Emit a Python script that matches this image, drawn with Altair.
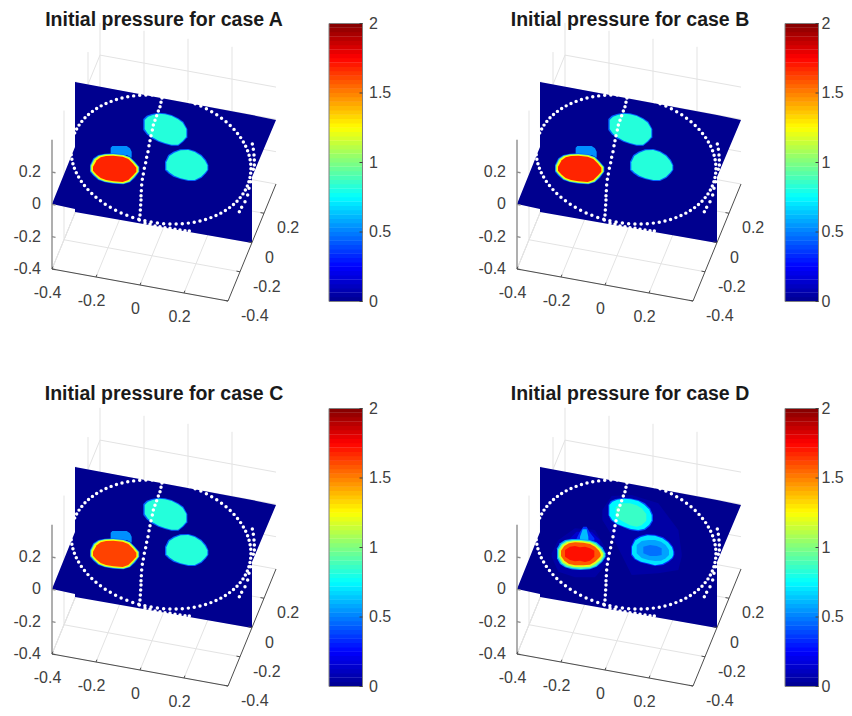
import numpy as np
import pandas as pd
import altair as alt

alt.data_transformers.disable_max_rows()

# ---------- panels ----------
case_names = ["A", "B", "C", "D"]
panel_dx = {"A": 0, "B": 465, "C": 0, "D": 465}
panel_dy = {"A": 0, "B": 0, "C": 385, "D": 385}
colorbar_dx = {"A": 0, "B": 456, "C": 0, "D": 456}
colorbar_gap = {"A": 6.5, "B": 3, "C": 6.5, "D": 3}
title_x = {"A": 164, "B": 630, "C": 164, "D": 630}
title_y = {"A": 20, "B": 20, "C": 394, "D": 394}

# ---------- axes ----------
tick_values = [-0.4, -0.2, 0, 0.2]
tick_labels = ["-0.4", "-0.2", "0", "0.2"]
cbar_ticks = [0, 0.5, 1, 1.5, 2]
cbar_labels = ["0", "0.5", "1", "1.5", "2"]
jet_stops = [0, 0.25, 0.75, 1.25, 1.75, 2]
jet_colors = ["#00008f", "#0000ff", "#00ffff", "#ffff00", "#ff0000", "#800000"]
cbar_levels = [round(i / 32, 5) for i in range(64)]


def proj(x, y, z):
    return (52 + 220 * (x + 0.4) + 60 * (y + 0.4),
            269 + 40 * (x + 0.4) - 146.25 * (y + 0.4) - 161.5 * (z + 0.4))


# ---------- image plane outline (column x, top y, bottom y) ----------
plane_x = [52, 74.99, 75, 252, 252.01, 276]
plane_top = [204, 147, 82, 115, 115, 120]
plane_bot = [204, 209, 212, 243, 177, 120]

# ---------- pressure regions, read in image units (value, u, top, bottom) ----------
top_blob = [
    (0.45, [190, 200, 215, 235, 255, 275, 295, 310, 322], [42, 32, 27, 23, 25, 30, 40, 50, 72], [75, 88, 100, 110, 117, 122, 122, 110, 97]),
    (0.82, [194, 204, 218, 236, 255, 275, 294, 308, 319], [45, 35, 30, 26, 28, 33, 43, 53, 72], [72, 86, 97, 107, 114, 119, 119, 108, 95]),
]
right_blob = [
    (0.45, [255, 265, 280, 300, 325, 345, 365, 378, 385], [170, 150, 140, 133, 132, 138, 150, 165, 180], [195, 205, 215, 222, 228, 228, 218, 205, 195]),
    (0.82, [259, 268, 283, 302, 325, 344, 363, 375, 382], [172, 153, 143, 136, 135, 141, 153, 167, 181], [193, 202, 212, 220, 225, 225, 215, 203, 194]),
]
left_bump = [
    (0.53, [92, 97, 140, 150, 155], [128, 123, 123, 130, 140], [150, 150, 150, 155, 158]),
]


def left_blob(red):
    return [
        (0.45, [30, 40, 55, 75, 100, 130, 150, 165, 178], [180, 160, 150, 146, 145, 148, 155, 170, 185], [200, 212, 225, 232, 236, 238, 232, 218, 200]),
        (1.0, [32, 42, 56, 75, 100, 130, 149, 163, 176], [182, 162, 152, 148, 147, 150, 157, 171, 186], [198, 210, 223, 230, 234, 236, 230, 216, 200]),
        (1.25, [35, 45, 58, 77, 100, 129, 147, 161, 173], [183, 164, 154, 150, 149, 152, 159, 173, 187], [197, 209, 221, 228, 232, 234, 228, 214, 200]),
        (red, [39, 50, 62, 78, 100, 128, 145, 158, 169], [185, 166, 157, 153, 152, 155, 162, 175, 188], [197, 209, 219, 225, 229, 231, 225, 212, 200]),
    ]


case_d = [
    (0.05, [20, 40, 90, 150, 190], [190, 150, 115, 120, 190], [200, 245, 262, 262, 215]),
    (0.05, [172, 200, 260, 340, 400, 410], [60, 18, 15, 40, 120, 190], [90, 135, 255, 250, 240, 200]),
    (0.14, [70, 95, 140, 165], [150, 125, 125, 150], [190, 190, 190, 190]),
    (0.35, [95, 105, 115, 125, 135, 148], [145, 125, 110, 110, 128, 145], [150, 150, 150, 150, 150, 152]),
    (0.62, [105, 113, 125, 130], [140, 118, 118, 140], [150, 150, 150, 150]),
    (0.55, [36, 45, 60, 80, 105, 135, 155, 172, 182], [175, 160, 150, 147, 147, 150, 157, 172, 190], [205, 222, 232, 238, 240, 238, 230, 215, 200]),
    (0.9, [39, 49, 63, 83, 108, 135, 153, 169, 179], [178, 162, 153, 150, 150, 153, 160, 175, 190], [203, 220, 230, 235, 237, 235, 228, 214, 199]),
    (1.2, [43, 53, 67, 87, 110, 135, 151, 166, 174], [180, 164, 156, 153, 153, 157, 165, 178, 190], [200, 217, 226, 231, 232, 230, 222, 210, 198]),
    (1.58, [48, 58, 72, 90, 115, 135, 150, 162, 167], [182, 168, 160, 157, 158, 162, 170, 182, 192], [198, 212, 222, 226, 226, 224, 215, 204, 198]),
    (1.72, [60, 75, 90, 105, 120, 135, 148], [180, 170, 168, 172, 170, 175, 182], [200, 210, 214, 212, 216, 212, 200]),
    (0.4, [190, 197, 212, 235, 255, 280, 300, 315, 324], [45, 33, 27, 24, 25, 30, 40, 55, 75], [75, 90, 102, 112, 120, 124, 120, 108, 92]),
    (0.74, [193, 202, 217, 238, 258, 280, 298, 312, 320], [45, 35, 29, 26, 28, 33, 44, 58, 75], [76, 90, 102, 110, 117, 120, 116, 105, 92]),
    (0.86, [212, 232, 255, 275, 290, 304], [52, 40, 40, 46, 55, 72], [82, 94, 106, 110, 106, 92]),
    (0.35, [258, 268, 285, 305, 330, 355, 372, 384, 388], [170, 148, 138, 133, 134, 142, 155, 170, 185], [195, 208, 217, 222, 228, 225, 215, 205, 195]),
    (0.7, [261, 271, 288, 308, 330, 352, 369, 381, 385], [170, 151, 141, 136, 137, 145, 157, 172, 185], [193, 206, 215, 220, 226, 222, 213, 203, 195]),
    (0.57, [275, 290, 310, 330, 348, 362, 372], [165, 153, 150, 150, 155, 165, 180], [190, 204, 210, 213, 212, 205, 195]),
    (0.47, [295, 315, 335, 350], [170, 165, 168, 175], [190, 198, 198, 195]),
]

case_regions = {
    "A": top_blob + right_blob + left_bump + left_blob(1.68),
    "B": top_blob + right_blob + left_bump + left_blob(1.68),
    "C": top_blob + right_blob + left_bump + left_blob(1.62),
    "D": case_d,
}

# ---------- sensor dots ----------
ring_deg = [0, 4, 8, 12, 16, 20, 24, 28, 32, 36, 40, 44, 48, 52, 56, 60, 64, 68, 72, 76, 80, 84, 88,
            92, 96, 100, 104, 108, 112, 116, 120, 124, 128, 132, 136, 140, 144, 148, 152, 156, 160,
            164, 168, 172, 176, 180, 184, 188, 192, 196, 200, 204, 208, 212, 216, 220, 224, 228, 232,
            236, 240, 244, 248, 252, 256, 260, 264, 268, 272, 276, 280, 284, 288, 292, 296, 300, 304,
            308, 312, 316, 320, 324, 328, 332, 336, 340, 344, 348, 352, 356]
arc_u = [246, 243, 240, 235, 230, 225, 220, 217, 213, 210, 207, 204, 200, 197, 193, 190, 187, 185, 184, 183, 183, 182, 181, 180, 178,
         195, 210, 225, 240, 255, 270, 285, 300, 315, 328,
         517, 520, 522, 523, 523, 520, 512, 507, 503, 495, 485, 478]
arc_v = [-21, -8, 5, 18, 32, 46, 60, 75, 92, 107, 122, 140, 157, 173, 190, 207, 223, 240, 257, 272, 285, 300, 315, 330, 345,
         355, 358, 363, 365, 368, 370, 373, 375, 377, 378,
         117, 133, 150, 165, 180, 193, 230, 250, 270, 290, 307, 320]

# ---------- build tables ----------
area_rows, grid_rows, axis_rows, zaxis_rows, dot_rows, left_text, right_text, center_text, title_rows = [], [], [], [], [], [], [], [], []
cbar_rows, cbar_frame, cbar_tick_rows, cbar_text = [], [], [], []
g = 0


def to_pic(u, v):
    return 80 + u / 3, 105 + v / 3


for case in case_names:
    dx, dy = panel_dx[case], panel_dy[case]

    def seg(rows, a, b):
        p, q = proj(*a), proj(*b)
        rows.append(dict(x=p[0] + dx, y=p[1] + dy, x2=q[0] + dx, y2=q[1] + dy))

    lo, hi = -0.4, 0.4
    for t in tick_values:
        seg(grid_rows, (t, lo, lo), (t, hi, lo))      # floor
        seg(grid_rows, (lo, t, lo), (hi, t, lo))
        seg(grid_rows, (t, hi, lo), (t, hi, hi))      # back wall
        seg(grid_rows, (lo, hi, t), (hi, hi, t))
        seg(grid_rows, (lo, t, lo), (lo, t, hi))      # left wall
        seg(grid_rows, (lo, t, t), (lo, hi, t))
    seg(grid_rows, (lo, lo, lo), (lo, hi, lo))

    seg(axis_rows, (lo, lo, lo), (hi, lo, lo))
    seg(axis_rows, (hi, lo, lo), (hi, hi, lo))
    seg(zaxis_rows, (lo, lo, lo), (lo, lo, hi))
    for t, lab in zip(tick_values, tick_labels):
        seg(axis_rows, (t, lo, lo), (t, lo + 0.016, lo))
        seg(axis_rows, (hi, t, lo), (hi - 0.016, t, lo))
        seg(zaxis_rows, (lo, lo, t), (lo + 0.016, lo, t))
        px, py = proj(t, lo, lo)
        center_text.append(dict(x=px - 4.5 + dx, y=py + 24 + dy, text=lab))
        px, py = proj(hi, t, lo)
        left_text.append(dict(x=px + 13 + dx, y=py + 15 + dy, text=lab))
        px, py = proj(lo, lo, t)
        right_text.append(dict(x=px - 11 + dx, y=py + dy, text=lab))

    for a, t_, b in zip(plane_x, plane_top, plane_bot):
        area_rows.append(dict(g=g, x=a + dx, top=t_ + dy, bot=b + dy, val=0.0))
    g += 1
    for val, us, tops, bots in case_regions[case]:
        for u, t_, b in zip(us, tops, bots):
            px, ty = to_pic(u, t_)
            _, by = to_pic(u, b)
            area_rows.append(dict(g=g, x=px + dx, top=ty + dy, bot=by + dy, val=val))
        g += 1

    for deg in ring_deg:
        c, s = np.cos(np.radians(deg)), np.sin(np.radians(deg))
        dot_rows.append(dict(x=161 + 89 * c + 13 * s + dx, y=159.5 + 18 * c - 62 * s + dy))
    for u, v in zip(arc_u, arc_v):
        px, py = to_pic(u, v)
        dot_rows.append(dict(x=px + dx, y=py + dy))

    title_rows.append(dict(x=title_x[case], y=title_y[case], text=f"Initial pressure for case {case}"))

    cdx = colorbar_dx[case]

    def cy(v):
        return 301.5 - v * 139 + dy

    for lev in cbar_levels:
        cbar_rows.append(dict(x=329 + cdx, x2=362.5 + cdx, y=cy(lev), y2=cy(lev + 1 / 32) - 0.4, val=lev + 1 / 64))
    cbar_frame.append(dict(x=329 + cdx, x2=362.5 + cdx, y=cy(0), y2=cy(2)))
    for v, lab in zip(cbar_ticks, cbar_labels):
        cbar_text.append(dict(x=362.5 + colorbar_gap[case] + cdx, y=cy(v), text=lab))
        cbar_tick_rows.append(dict(x=359.5 + cdx, x2=362.5 + cdx, y=cy(v), y2=cy(v)))

# ---------- chart ----------
sx = alt.Scale(domain=[8, 844], nice=False, zero=False)
sy = alt.Scale(domain=[712, 8], nice=False, zero=False)
X = alt.X("x:Q", scale=sx, axis=None)
Y = alt.Y("y:Q", scale=sy, axis=None)
jet = alt.Scale(domain=jet_stops, range=jet_colors, interpolate="rgb", clamp=True)
FONT = "Liberation Sans"


def rules(rows, color, width):
    return alt.Chart(pd.DataFrame(rows)).mark_rule(color=color, strokeWidth=width).encode(X, Y, x2="x2:Q", y2="y2:Q")


def texts(rows, align, size, color, weight="normal"):
    return alt.Chart(pd.DataFrame(rows)).mark_text(
        align=align, baseline="middle", font=FONT, fontSize=size, color=color, fontWeight=weight
    ).encode(X, Y, text="text:N")


areas = alt.Chart(pd.DataFrame(area_rows)).mark_area(interpolate="linear", opacity=1).encode(
    X, alt.Y("top:Q", scale=sy, axis=None, stack=None), y2="bot:Q",
    color=alt.Color("val:Q", scale=jet, legend=None),
    detail="g:N",
)
dots = alt.Chart(pd.DataFrame(dot_rows)).mark_circle(color="#ffffff", size=12, opacity=1).encode(X, Y)
cbar = alt.Chart(pd.DataFrame(cbar_rows)).mark_rect().encode(
    X, Y, x2="x2:Q", y2="y2:Q", color=alt.Color("val:Q", scale=jet, legend=None)
)
frame = alt.Chart(pd.DataFrame(cbar_frame)).mark_rect(fill=None, stroke="#808080", strokeWidth=1).encode(
    X, Y, x2="x2:Q", y2="y2:Q"
)

chart = alt.layer(
    rules(grid_rows, "#e3e3e3", 1),
    areas,
    dots,
    rules(zaxis_rows, "#8c8c8c", 1.3),
    rules(axis_rows, "#4d4d4d", 1),
    texts(left_text, "left", 16, "#404040"),
    texts(right_text, "right", 16, "#404040"),
    texts(center_text, "center", 16, "#404040"),
    texts(title_rows, "center", 19.5, "#1a1a1a", "bold"),
    cbar, frame,
    rules(cbar_tick_rows, "#404040", 1),
    texts(cbar_text, "left", 16, "#404040"),
).properties(
    width=836, height=704, padding=0, autosize=alt.AutoSizeParams(type="none")
).configure_view(stroke=None).resolve_scale(color="shared")

chart.save("out.html", embed_options={"renderer": "svg", "actions": False})
